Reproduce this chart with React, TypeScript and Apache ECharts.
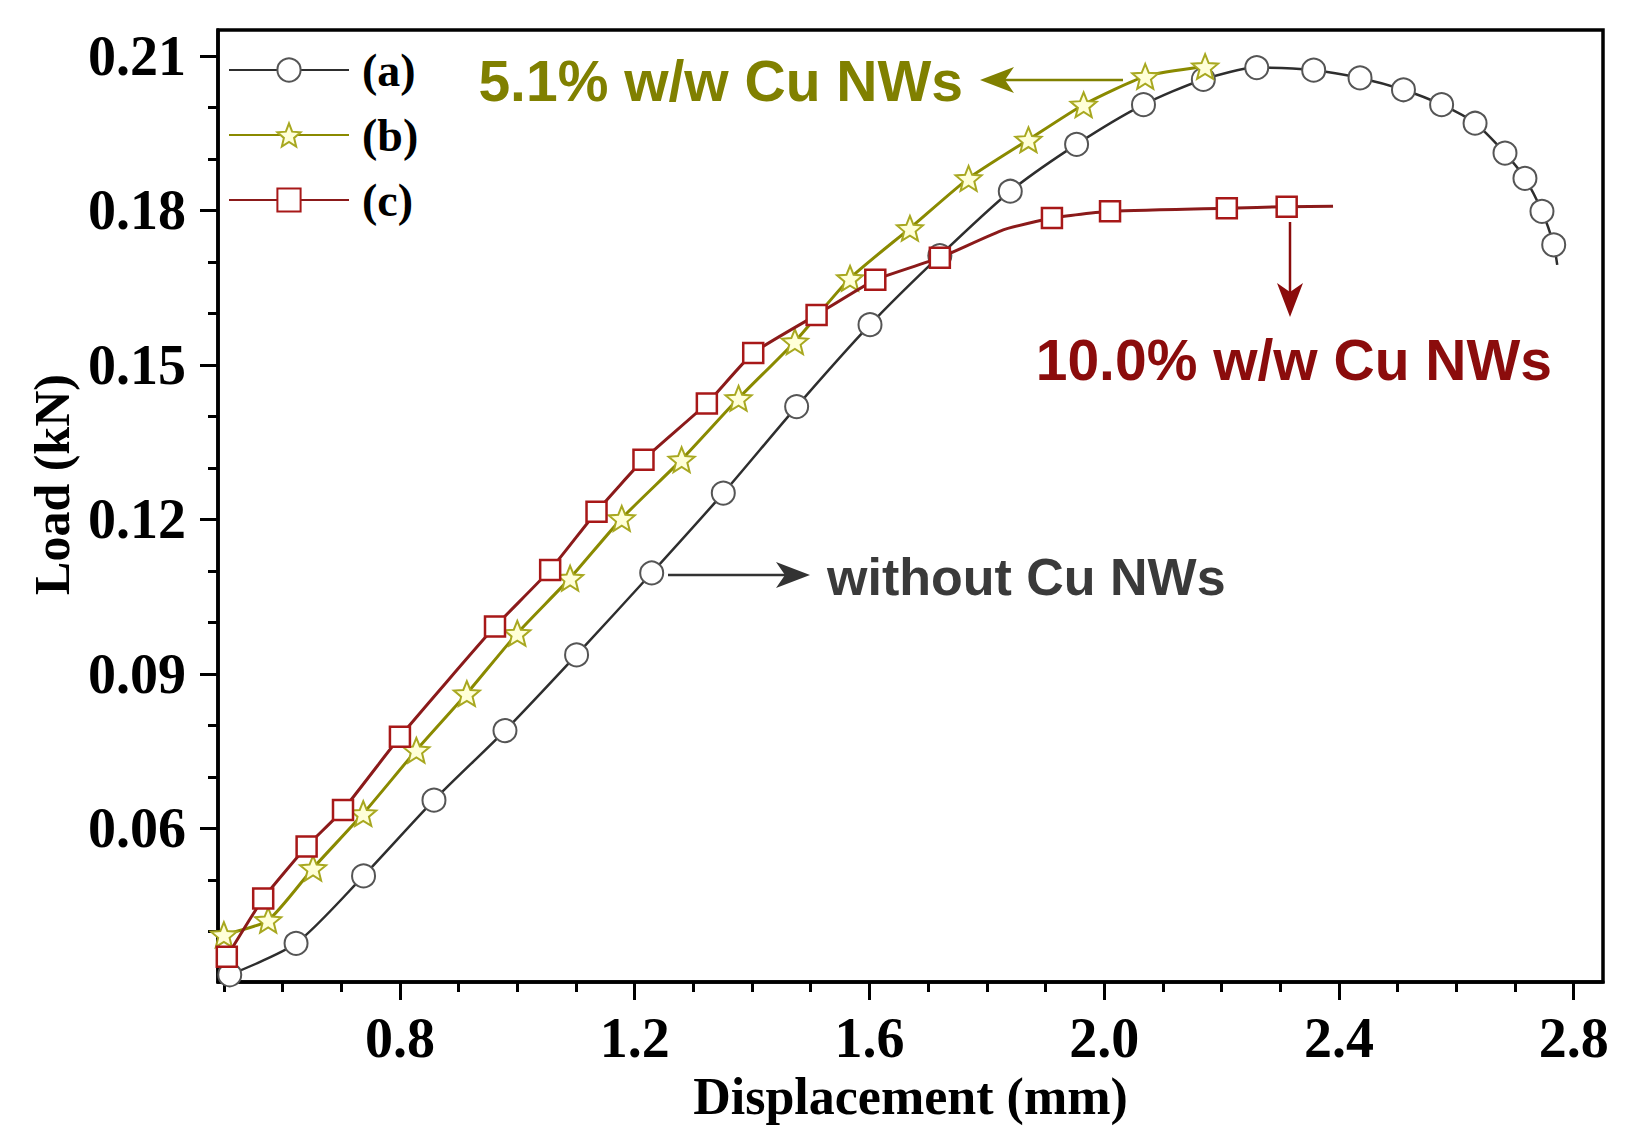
import React, { useEffect, useRef } from 'react';
import * as echarts from 'echarts';

// (a) without Cu NWs
const A_X = [0.51, 0.623, 0.738, 0.858, 0.979, 1.101, 1.229, 1.351, 1.476, 1.601, 1.72, 1.84, 1.953, 2.067, 2.169, 2.26, 2.357, 2.436, 2.51, 2.575, 2.632, 2.683, 2.717, 2.746, 2.766, 2.772];
const A_Y = [0.0316, 0.0377, 0.0508, 0.0655, 0.079, 0.0937, 0.1096, 0.1251, 0.1419, 0.1578, 0.1712, 0.1837, 0.1928, 0.2005, 0.2054, 0.2077, 0.2072, 0.2057, 0.2034, 0.2005, 0.1969, 0.1911, 0.1862, 0.1798, 0.1733, 0.1694];
const A_PLAIN = [25];

// (b) 5.1% w/w Cu NWs
const B_X = [0.50, 0.5755, 0.652, 0.7375, 0.828, 0.914, 1.0, 1.09, 1.178, 1.28, 1.377, 1.473, 1.567, 1.669, 1.769, 1.871, 1.965, 2.07, 2.172];
const B_Y = [0.0394, 0.0422, 0.0523, 0.0629, 0.0752, 0.0862, 0.0979, 0.1086, 0.1202, 0.1316, 0.1435, 0.1545, 0.1668, 0.1765, 0.1862, 0.1937, 0.2005, 0.206, 0.2079];
const B_PLAIN: number[] = [];

// (c) 10.0% w/w Cu NWs
const C_X = [0.505, 0.567, 0.641, 0.703, 0.80, 0.88, 0.962, 1.056, 1.135, 1.215, 1.323, 1.402, 1.51, 1.61, 1.72, 1.828, 1.911, 2.01, 2.209, 2.311, 2.39];
const C_Y = [0.0351, 0.0464, 0.0565, 0.0636, 0.0778, 0.0885, 0.0992, 0.1102, 0.1215, 0.1316, 0.1425, 0.1523, 0.1597, 0.1665, 0.1708, 0.1762, 0.1785, 0.1798, 0.1804, 0.1807, 0.1808];
const C_PLAIN = [5, 15, 20];

const SERIES_NAMES = ['(a)', '(b)', '(c)'];

const X_MAJOR = [0.8, 1.2, 1.6, 2.0, 2.4, 2.8];
const X_MINOR = [0.5, 0.6, 0.7, 0.9, 1.0, 1.1, 1.3, 1.4, 1.5, 1.7, 1.8, 1.9, 2.1, 2.2, 2.3, 2.5, 2.6, 2.7];
const Y_MAJOR = [0.06, 0.09, 0.12, 0.15, 0.18, 0.21];
const Y_MINOR = [0.04, 0.05, 0.07, 0.08, 0.10, 0.11, 0.13, 0.14, 0.16, 0.17, 0.19, 0.20];

const STAR =
  'path://M50,0L62.93,32.2L97.55,34.55L70.92,56.8L79.39,90.45L50,72L20.61,90.45L29.08,56.8L2.45,34.55L37.07,32.2Z';

const SERIF = "'Liberation Serif','Times New Roman',serif";
const SANS = "'Liberation Sans',Arial,sans-serif";

function pts(xs: number[], ys: number[], plain: number[]) {
  return xs.map((x, i) => {
    const item: any = { value: [x, ys[i]] };
    if (plain.indexOf(i) >= 0) item.symbol = 'none';
    return item;
  });
}

export default function App() {
  const ref = useRef<HTMLDivElement>(null);
  useEffect(() => {
    const chart = echarts.init(ref.current as HTMLDivElement, null, { renderer: 'svg' });
    const tickLine = { color: '#000', width: 3 };
    const labelStyle = { fontSize: 56, fontWeight: 'bold', fontFamily: SERIF, color: '#000' };
    const olive = '#808000';
    const darkRed = '#8b0c0c';
    const grey = '#3a3a3a';
    chart.setOption({
      animation: false,
      backgroundColor: '#fff',
      grid: { left: 218, right: 31, top: 30, bottom: 160, show: true, borderColor: '#000', borderWidth: 3.5, backgroundColor: '#fff' },
      legend: {
        orient: 'vertical',
        left: 223,
        top: 40,
        itemWidth: 120,
        itemHeight: 29,
        itemGap: 15,
        data: SERIES_NAMES,
        textStyle: { fontSize: 46, fontWeight: 'bold', fontFamily: SERIF, color: '#000', lineHeight: 50, padding: [0, 0, 0, 8] },
      },
      xAxis: [
        {
          type: 'value', min: 0.49, max: 2.85, position: 'bottom',
          axisLine: { show: true, onZero: false, lineStyle: { color: '#000', width: 3.5 } },
          axisTick: { show: true, inside: false, length: 18, customValues: X_MAJOR, lineStyle: tickLine },
          axisLabel: { customValues: X_MAJOR, formatter: (v: number) => v.toFixed(1), margin: 28, ...labelStyle },
          splitLine: { show: false },
          name: 'Displacement (mm)', nameLocation: 'middle', nameGap: 86,
          nameTextStyle: { fontSize: 52, fontWeight: 'bold', fontFamily: SERIF, color: '#000' },
        },
        {
          type: 'value', min: 0.49, max: 2.85, position: 'bottom',
          axisLine: { show: false, onZero: false },
          axisTick: { show: true, inside: false, length: 10, customValues: X_MINOR, lineStyle: tickLine },
          axisLabel: { show: false },
          splitLine: { show: false },
        },
      ],
      yAxis: [
        {
          type: 'value', min: 0.0302, max: 0.215, position: 'left',
          axisLine: { show: true, onZero: false, lineStyle: { color: '#000', width: 3.5 } },
          axisTick: { show: true, inside: false, length: 18, customValues: Y_MAJOR, lineStyle: tickLine },
          axisLabel: { customValues: Y_MAJOR, formatter: (v: number) => v.toFixed(2), margin: 32, ...labelStyle },
          splitLine: { show: false },
          name: 'Load (kN)', nameLocation: 'middle', nameGap: 138,
          nameTextStyle: { fontSize: 50, fontWeight: 'bold', fontFamily: SERIF, color: '#000', padding: [0, 0, 0, 43] },
        },
        {
          type: 'value', min: 0.0302, max: 0.215, position: 'left',
          axisLine: { show: false, onZero: false },
          axisTick: { show: true, inside: false, length: 10, customValues: Y_MINOR, lineStyle: tickLine },
          axisLabel: { show: false },
          splitLine: { show: false },
        },
      ],
      series: [
        {
          type: 'line', name: SERIES_NAMES[0], xAxisIndex: 0, yAxisIndex: 0,
          data: pts(A_X, A_Y, A_PLAIN),
          symbol: 'circle', symbolSize: 23, smooth: 0.25,
          lineStyle: { color: '#2e2e2e', width: 2.5 },
          itemStyle: { color: '#fff', borderColor: '#555', borderWidth: 2 },
          z: 2,
        },
        {
          type: 'line', name: SERIES_NAMES[1], xAxisIndex: 0, yAxisIndex: 0,
          data: pts(B_X, B_Y, B_PLAIN),
          symbol: STAR, symbolSize: 26, symbolKeepAspect: true, smooth: 0.2,
          lineStyle: { color: '#8a8a00', width: 3 },
          itemStyle: { color: '#ffffd8', borderColor: '#a8a820', borderWidth: 2 },
          z: 3,
        },
        {
          type: 'line', name: SERIES_NAMES[2], xAxisIndex: 0, yAxisIndex: 0,
          data: pts(C_X, C_Y, C_PLAIN),
          symbol: 'rect', symbolSize: 20, smooth: 0.15,
          lineStyle: { color: '#8b1a1a', width: 3 },
          itemStyle: { color: '#fff', borderColor: '#a81818', borderWidth: 2.5 },
          z: 4,
        },
      ],
      graphic: [
        { type: 'text', z: 10, style: { text: '5.1% w/w Cu NWs', x: 963, y: 81, align: 'right', verticalAlign: 'middle', fontSize: 57, fontWeight: 'bold', fontFamily: SANS, fill: olive } },
        { type: 'line', z: 10, shape: { x1: 1003, y1: 80, x2: 1123, y2: 80 }, style: { stroke: olive, lineWidth: 2.5 } },
        { type: 'polygon', z: 10, shape: { points: [[980, 80], [1014, 67], [1005, 80], [1014, 93]] }, style: { fill: olive } },

        { type: 'text', z: 10, style: { text: '10.0% w/w Cu NWs', x: 1552, y: 360, align: 'right', verticalAlign: 'middle', fontSize: 57, fontWeight: 'bold', fontFamily: SANS, fill: darkRed } },
        { type: 'line', z: 10, shape: { x1: 1290, y1: 222, x2: 1290, y2: 295 }, style: { stroke: darkRed, lineWidth: 2.5 } },
        { type: 'polygon', z: 10, shape: { points: [[1290, 317], [1277, 283], [1290, 292], [1303, 283]] }, style: { fill: darkRed } },

        { type: 'text', z: 10, style: { text: 'without Cu NWs', x: 827, y: 577, align: 'left', verticalAlign: 'middle', fontSize: 52, fontWeight: 'bold', fontFamily: SANS, fill: grey } },
        { type: 'line', z: 10, shape: { x1: 668, y1: 575, x2: 790, y2: 575 }, style: { stroke: '#333', lineWidth: 2.5 } },
        { type: 'polygon', z: 10, shape: { points: [[810, 575], [776, 562], [785, 575], [776, 588]] }, style: { fill: '#333' } },
      ],
    });
    return () => chart.dispose();
  }, []);
  return <div ref={ref} style={{ position: 'absolute', left: 0, top: 0, width: 1634, height: 1142 }} />;
}
